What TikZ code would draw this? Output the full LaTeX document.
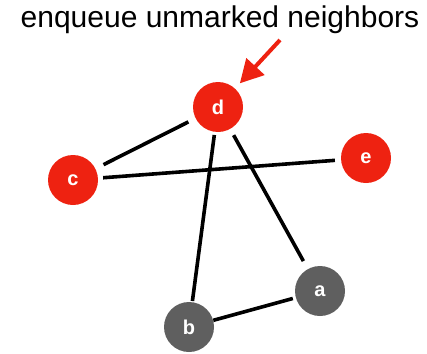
\documentclass[tikz,border=0pt]{standalone}
\usepackage{fontspec}
\setmainfont{Liberation Sans}
\usetikzlibrary{arrows.meta}
\definecolor{hotred}{RGB}{238,34,17}
\definecolor{slategray}{RGB}{95,95,95}
\begin{document}
\begin{tikzpicture}[x=1pt,y=-1pt,
  vert/.style={circle,minimum size=50pt,inner sep=0pt,text=white,
    font=\fontsize{20}{20}\selectfont\bfseries},
  seen/.style={vert,fill=hotred},
  fresh/.style={vert,fill=slategray},
  link/.style={line width=3.6pt,black},
  pointer/.style={line width=4pt,draw=hotred,-{Triangle[length=23pt,width=24pt,fill=hotred]}}]
\useasboundingbox (0,0) rectangle (427,353);
% caption
\node[anchor=base,font=\fontsize{30}{32}\selectfont] (title) at (220,28) {enqueue unmarked neighbors};
% vertices
\node[seen]  (d) at (218,107) {d};
\node[seen]  (c) at (73,180)  {c};
\node[seen]  (e) at (366,158) {e};
\node[fresh] (a) at (320,291) {a};
\node[fresh] (b) at (189,327) {b};
% edges
\draw[link,shorten <=9pt,shorten >=8pt] (c) -- (d);
\draw[link,shorten <=5pt,shorten >=6pt] (c) -- (e);
\draw[link,shorten <=3pt,shorten >=1pt] (d) -- (b);
\draw[link,shorten <=7pt,shorten >=9pt] (d) -- (a);
\draw[link,shorten <=0pt,shorten >=3pt] (b) -- (a);
% pointer to the current vertex
\coordinate (ptr) at (280,40);
\draw[pointer,shorten >=7pt] (ptr) -- (d);
\end{tikzpicture}
\end{document}
